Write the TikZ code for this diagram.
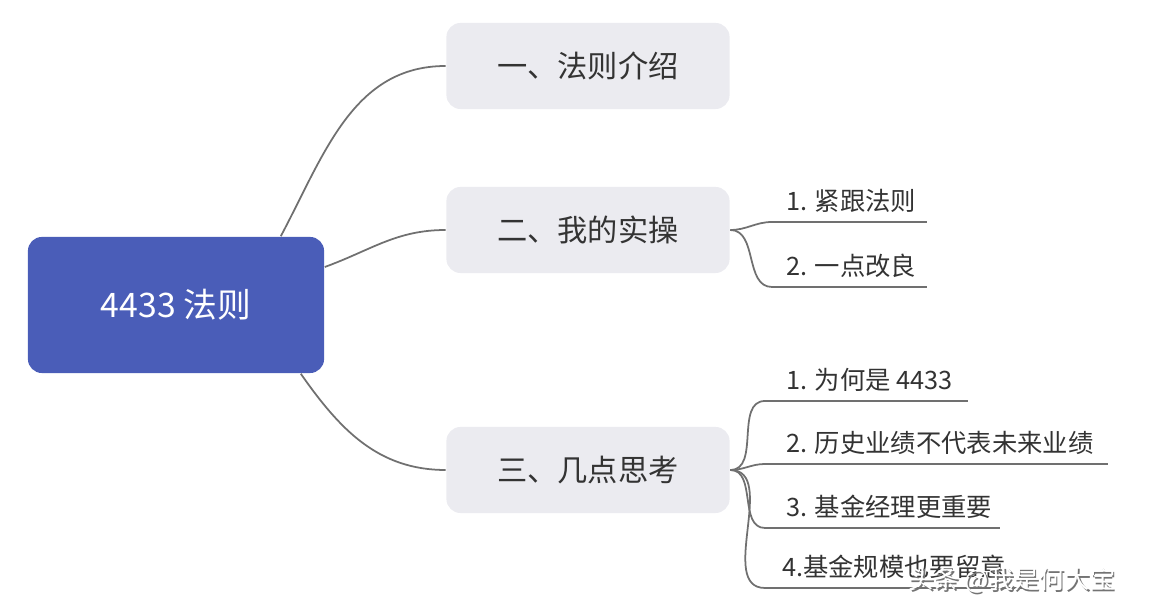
\documentclass[tikz,border=0pt]{standalone}
\usepackage{fontspec}
\setmainfont{Noto Sans CJK SC}
\usetikzlibrary{positioning}
\definecolor{rootblue}{HTML}{4A5DB8}
\definecolor{topicgray}{HTML}{EBEBF0}
\definecolor{linegray}{HTML}{707070}
\definecolor{txtgray}{HTML}{333333}
\tikzset{
  root/.style={rectangle, rounded corners=4pt, minimum width=2.96cm, minimum height=1.36cm, fill=rootblue, text=white, font=\fontsize{9.6}{11}\selectfont},
  topic/.style={rectangle, rounded corners=4pt, minimum width=2.83cm, minimum height=0.86cm, fill=topicgray, text=txtgray, font=\fontsize{8.6}{10}\selectfont},
  sub/.style={anchor=south west, inner sep=1pt, text=txtgray, font=\fontsize{7.2}{8}\selectfont},
  branch/.style={draw=linegray, line width=0.5pt},
  under/.style={draw=linegray, line width=0.5pt},
  watermark/.style={inner sep=0pt, font=\fontsize{7.2}{9}\selectfont}
}
\begin{document}
\begin{tikzpicture}[x=0.01cm, y=-0.01cm]
  \useasboundingbox (0,0) rectangle (1150,616);
  % Nodes
  \node (root) [root] at (176,305) {4433 法则};
  \node (t1) [topic] at (588,66) {一、法则介绍};
  \node (t2) [topic] at (588,230) {二、我的实操};
  \node (t3) [topic] at (588,470) {三、几点思考};

  % sub items of t2
  \coordinate (a1) at (772,222); \coordinate (a1e) at (927,222);
  \coordinate (a2) at (772,287); \coordinate (a2e) at (927,287);
  \node (s21) [sub] at (782,217) {1. 紧跟法则};
  \node (s22) [sub] at (782,282) {2. 一点改良};

  % sub items of t3
  \coordinate (b1) at (765,401); \coordinate (b1e) at (968,401);
  \coordinate (b2) at (765,464); \coordinate (b2e) at (1108,464);
  \coordinate (b3) at (765,528); \coordinate (b3e) at (1000,528);
  \coordinate (b4) at (765,588); \coordinate (b4e) at (1025,588);
  \node (s31) [sub] at (782,396) {1. 为何是 4433};
  \node (s32) [sub] at (782,459) {2. 历史业绩不代表未来业绩};
  \node (s33) [sub] at (782,523) {3. 基金经理更重要};
  \node (s34) [sub] at (778,583) {4.基金规模也要留意};

  % Branches
  \draw [branch] (root.north east) ++(-44,0) to[out=62,in=180] (t1.west);
  \draw [branch] (root.east) ++(0,-38) to[out=20,in=180] (t2.west);
  \draw [branch] (root.south east) ++(-24,0) to[out=-55,in=180] (t3.west);

  \draw [branch] (t2.east) to[out=0,in=180] (a1);
  \draw [branch] (t2.east) to[out=0,in=180] (a2);
  \draw [under] (a1) -- (a1e);
  \draw [under] (a2) -- (a2e);

  \draw [branch] (t3.east) to[out=0,in=180] (b1);
  \draw [branch] (t3.east) to[out=0,in=180] (b2);
  \draw [branch] (t3.east) to[out=0,in=180] (b3);
  \draw [branch] (t3.east) to[out=0,in=180] (b4);
  \foreach \p in {b1,b2,b3,b4} \draw [under] (\p) -- (\p e);

  % watermark
  \node (markshadow) [watermark, text=black!55] at (1013.5,581.5) {头条 @我是何大宝};
  \node (mark) [watermark, text=white] at (1012,580) {头条 @我是何大宝};
\end{tikzpicture}
\end{document}
